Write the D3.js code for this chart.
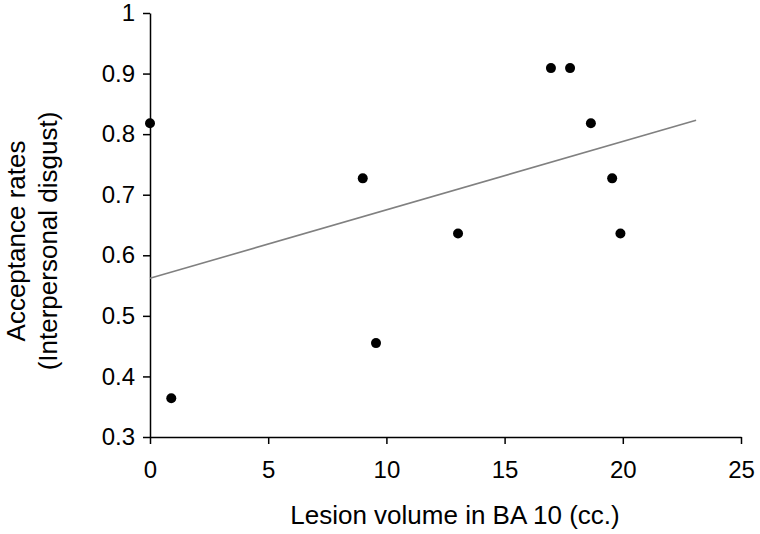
<!DOCTYPE html>
<html>
<head>
<meta charset="utf-8">
<script src="https://cdn.jsdelivr.net/npm/d3@7"></script>
<style>
  body { margin: 0; background: #fff; }
  text { font-family: "Liberation Sans", Arial, sans-serif; fill: #000; }
</style>
</head>
<body>
<svg id="chart" width="760" height="534"></svg>
<script>
// lesion volume (cc.) and acceptance rate per patient
var lesionVolume = [0, 0.9, 9.0, 9.56, 13.03, 16.96, 17.77, 18.65, 19.55, 19.9];
var acceptance = [0.818, 0.364, 0.727, 0.455, 0.636, 0.909, 0.909, 0.818, 0.727, 0.636];
// linear trend line ends
var trendX = [0, 23.1];
var trendY = [0.562, 0.823];
var xTicks = [0, 5, 10, 15, 20, 25];
var yTicks = [0.3, 0.4, 0.5, 0.6, 0.7, 0.8, 0.9, 1];

var svg = d3.select("#chart");
var x = d3.scaleLinear().domain([0, 25]).range([150, 741]);
var y = d3.scaleLinear().domain([0.3, 1]).range([437, 13]);

function styleAxis(g) {
  g.selectAll("path, line").attr("stroke", "#000").attr("stroke-width", 1.5);
  g.selectAll("text").attr("font-size", 24).attr("fill", "#000")
    .attr("font-family", "'Liberation Sans', Arial, sans-serif");
}

svg.append("g").attr("transform", "translate(0,437)")
  .call(d3.axisBottom(x).tickValues(xTicks).tickSize(7).tickSizeOuter(0).tickPadding(17).tickFormat(d3.format("d")))
  .call(styleAxis);

svg.append("g").attr("transform", "translate(150,0)")
  .call(d3.axisLeft(y).tickValues(yTicks).tickSize(7).tickSizeOuter(0).tickPadding(8).tickFormat(function(d) { return d === 1 ? "1" : d3.format(".1f")(d); }))
  .call(styleAxis);

svg.append("line")
  .attr("x1", x(trendX[0])).attr("y1", y(trendY[0]))
  .attr("x2", x(trendX[1])).attr("y2", y(trendY[1]))
  .attr("stroke", "#808080").attr("stroke-width", 1.6);

svg.append("g").selectAll("circle").data(lesionVolume).enter().append("circle")
  .attr("cx", function(d) { return x(d); })
  .attr("cy", function(d, i) { return y(acceptance[i]); })
  .attr("r", 5).attr("fill", "#000");

svg.append("text").attr("x", 455).attr("y", 524).attr("text-anchor", "middle")
  .attr("font-size", 26).text("Lesion volume in BA 10 (cc.)");

var yTitle = svg.append("text").attr("transform", "translate(0,241) rotate(-90)")
  .attr("text-anchor", "middle").attr("font-size", 26);
yTitle.append("tspan").attr("x", 0).attr("y", 25).text("Acceptance rates");
yTitle.append("tspan").attr("x", 0).attr("y", 57).text("(Interpersonal disgust)");
</script>
</body>
</html>
